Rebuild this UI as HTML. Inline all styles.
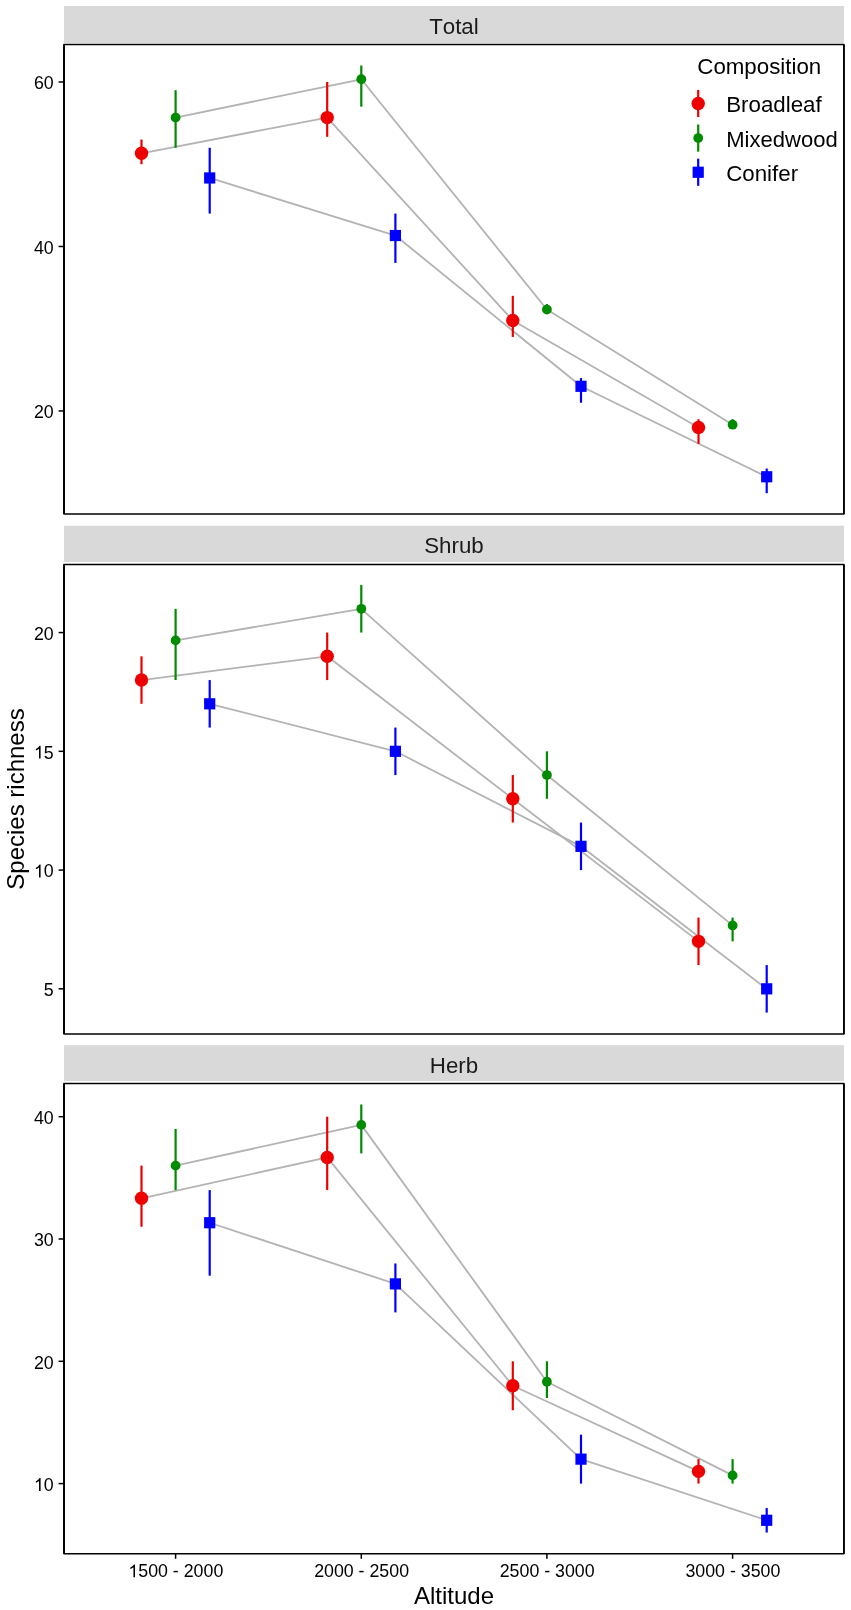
<!DOCTYPE html>
<html><head><meta charset="utf-8"><title>Species richness by altitude</title>
<style>
html,body{margin:0;padding:0;background:#fff;}
body{width:851px;height:1610px;overflow:hidden;}
svg{display:block;will-change:transform;font-family:"Liberation Sans", sans-serif;font-kerning:none;font-feature-settings:"kern" 0;}
</style></head><body>
<svg width="851" height="1610" viewBox="0 0 851 1610">
<rect x="0" y="0" width="851" height="1610" fill="#FFFFFF"/>
<rect x="64" y="6" width="779.9" height="37" fill="#D9D9D9"/>
<text x="453.95" y="33.6" font-size="22.3" text-anchor="middle" fill="#1A1A1A">Total</text>
<polyline points="141.5,153.28 327.2,117.58 512.8,320.5 698.5,427.42" fill="none" stroke="#B3B3B3" stroke-width="1.8" stroke-linejoin="round" stroke-linecap="butt"/>
<polyline points="175.6,117.58 361.3,79.26 546.9,309.56 732.6,424.71" fill="none" stroke="#B3B3B3" stroke-width="1.8" stroke-linejoin="round" stroke-linecap="butt"/>
<polyline points="209.7,177.96 395.4,235.53 581,386.29 766.7,476.77" fill="none" stroke="#B3B3B3" stroke-width="1.8" stroke-linejoin="round" stroke-linecap="butt"/>
<line x1="141.5" y1="139.54" x2="141.5" y2="164.22" stroke="#EE0000" stroke-width="2.2"/>
<line x1="175.6" y1="90.19" x2="175.6" y2="147.77" stroke="#008B00" stroke-width="2.2"/>
<line x1="209.7" y1="147.77" x2="209.7" y2="213.57" stroke="#0000FF" stroke-width="2.2"/>
<line x1="327.2" y1="81.97" x2="327.2" y2="136.83" stroke="#EE0000" stroke-width="2.2"/>
<line x1="361.3" y1="65.52" x2="361.3" y2="106.64" stroke="#008B00" stroke-width="2.2"/>
<line x1="395.4" y1="213.57" x2="395.4" y2="262.92" stroke="#0000FF" stroke-width="2.2"/>
<line x1="512.8" y1="295.82" x2="512.8" y2="336.94" stroke="#EE0000" stroke-width="2.2"/>
<line x1="546.9" y1="304.04" x2="546.9" y2="312.27" stroke="#008B00" stroke-width="2.2"/>
<line x1="581" y1="378.07" x2="581" y2="402.75" stroke="#0000FF" stroke-width="2.2"/>
<line x1="698.5" y1="419.19" x2="698.5" y2="443.87" stroke="#EE0000" stroke-width="2.2"/>
<line x1="732.6" y1="419.19" x2="732.6" y2="427.42" stroke="#008B00" stroke-width="2.2"/>
<line x1="766.7" y1="468.54" x2="766.7" y2="493.22" stroke="#0000FF" stroke-width="2.2"/>
<circle cx="141.5" cy="153.28" r="6.7" fill="#EE0000"/>
<circle cx="175.6" cy="117.58" r="4.9" fill="#008B00"/>
<rect x="204.1" y="172.36" width="11.2" height="11.2" fill="#0000FF"/>
<circle cx="327.2" cy="117.58" r="6.7" fill="#EE0000"/>
<circle cx="361.3" cy="79.26" r="4.9" fill="#008B00"/>
<rect x="389.8" y="229.93" width="11.2" height="11.2" fill="#0000FF"/>
<circle cx="512.8" cy="320.5" r="6.7" fill="#EE0000"/>
<circle cx="546.9" cy="309.56" r="4.9" fill="#008B00"/>
<rect x="575.4" y="380.69" width="11.2" height="11.2" fill="#0000FF"/>
<circle cx="698.5" cy="427.42" r="6.7" fill="#EE0000"/>
<circle cx="732.6" cy="424.71" r="4.9" fill="#008B00"/>
<rect x="761.1" y="471.17" width="11.2" height="11.2" fill="#0000FF"/>
<rect x="64" y="44.5" width="779.9" height="469.5" fill="none" stroke="#000" stroke-width="1.5" stroke-linejoin="round"/>
<line x1="64" y1="44.5" x2="64" y2="514" stroke="#000" stroke-width="1.9"/>
<line x1="843.9" y1="44.5" x2="843.9" y2="514" stroke="#000" stroke-width="1.7"/>
<line x1="58.6" y1="410.97" x2="64" y2="410.97" stroke="#000000" stroke-width="1.5"/>
<text x="53.75" y="418.27" font-size="17.8" text-anchor="end" fill="#000000">20</text>
<line x1="58.6" y1="246.47" x2="64" y2="246.47" stroke="#000000" stroke-width="1.5"/>
<text x="53.75" y="253.77" font-size="17.8" text-anchor="end" fill="#000000">40</text>
<line x1="58.6" y1="81.97" x2="64" y2="81.97" stroke="#000000" stroke-width="1.5"/>
<text x="53.75" y="89.27" font-size="17.8" text-anchor="end" fill="#000000">60</text>
<rect x="64" y="525.7" width="779.9" height="36.3" fill="#D9D9D9"/>
<text x="453.95" y="553.3" font-size="22.3" text-anchor="middle" fill="#1A1A1A">Shrub</text>
<polyline points="141.5,680.06 327.2,656.31 512.8,798.82 698.5,941.34" fill="none" stroke="#B3B3B3" stroke-width="1.8" stroke-linejoin="round" stroke-linecap="butt"/>
<polyline points="175.6,640.4 361.3,608.81 546.9,775.07 732.6,925.42" fill="none" stroke="#B3B3B3" stroke-width="1.8" stroke-linejoin="round" stroke-linecap="butt"/>
<polyline points="209.7,703.82 395.4,751.32 581,846.33 766.7,988.84" fill="none" stroke="#B3B3B3" stroke-width="1.8" stroke-linejoin="round" stroke-linecap="butt"/>
<line x1="141.5" y1="656.31" x2="141.5" y2="703.82" stroke="#EE0000" stroke-width="2.2"/>
<line x1="175.6" y1="608.81" x2="175.6" y2="680.06" stroke="#008B00" stroke-width="2.2"/>
<line x1="209.7" y1="680.06" x2="209.7" y2="727.57" stroke="#0000FF" stroke-width="2.2"/>
<line x1="327.2" y1="632.56" x2="327.2" y2="680.06" stroke="#EE0000" stroke-width="2.2"/>
<line x1="361.3" y1="585.06" x2="361.3" y2="632.56" stroke="#008B00" stroke-width="2.2"/>
<line x1="395.4" y1="727.57" x2="395.4" y2="775.07" stroke="#0000FF" stroke-width="2.2"/>
<line x1="512.8" y1="775.07" x2="512.8" y2="822.58" stroke="#EE0000" stroke-width="2.2"/>
<line x1="546.9" y1="751.32" x2="546.9" y2="798.82" stroke="#008B00" stroke-width="2.2"/>
<line x1="581" y1="822.58" x2="581" y2="870.08" stroke="#0000FF" stroke-width="2.2"/>
<line x1="698.5" y1="917.58" x2="698.5" y2="965.09" stroke="#EE0000" stroke-width="2.2"/>
<line x1="732.6" y1="917.58" x2="732.6" y2="941.34" stroke="#008B00" stroke-width="2.2"/>
<line x1="766.7" y1="965.09" x2="766.7" y2="1012.59" stroke="#0000FF" stroke-width="2.2"/>
<circle cx="141.5" cy="680.06" r="6.7" fill="#EE0000"/>
<circle cx="175.6" cy="640.4" r="4.9" fill="#008B00"/>
<rect x="204.1" y="698.22" width="11.2" height="11.2" fill="#0000FF"/>
<circle cx="327.2" cy="656.31" r="6.7" fill="#EE0000"/>
<circle cx="361.3" cy="608.81" r="4.9" fill="#008B00"/>
<rect x="389.8" y="745.72" width="11.2" height="11.2" fill="#0000FF"/>
<circle cx="512.8" cy="798.82" r="6.7" fill="#EE0000"/>
<circle cx="546.9" cy="775.07" r="4.9" fill="#008B00"/>
<rect x="575.4" y="840.73" width="11.2" height="11.2" fill="#0000FF"/>
<circle cx="698.5" cy="941.34" r="6.7" fill="#EE0000"/>
<circle cx="732.6" cy="925.42" r="4.9" fill="#008B00"/>
<rect x="761.1" y="983.24" width="11.2" height="11.2" fill="#0000FF"/>
<rect x="64" y="564.4" width="779.9" height="469.6" fill="none" stroke="#000" stroke-width="1.5" stroke-linejoin="round"/>
<line x1="64" y1="564.4" x2="64" y2="1034" stroke="#000" stroke-width="1.9"/>
<line x1="843.9" y1="564.4" x2="843.9" y2="1034" stroke="#000" stroke-width="1.7"/>
<line x1="58.6" y1="988.84" x2="64" y2="988.84" stroke="#000000" stroke-width="1.5"/>
<text x="53.75" y="996.14" font-size="17.8" text-anchor="end" fill="#000000">5</text>
<line x1="58.6" y1="870.08" x2="64" y2="870.08" stroke="#000000" stroke-width="1.5"/>
<text x="33.95" y="877.38" font-size="17.8" fill="#000000"> 0</text><path transform="translate(33.95,877.38) scale(0.008691,-0.008691)" d="M763 0L583 0L583 1147Q518 1085 412 1023Q307 961 223 930L223 1104Q374 1175 487 1276Q600 1377 647 1472L763 1472Z" fill="#000000"/>
<line x1="58.6" y1="751.32" x2="64" y2="751.32" stroke="#000000" stroke-width="1.5"/>
<text x="33.95" y="758.62" font-size="17.8" fill="#000000"> 5</text><path transform="translate(33.95,758.62) scale(0.008691,-0.008691)" d="M763 0L583 0L583 1147Q518 1085 412 1023Q307 961 223 930L223 1104Q374 1175 487 1276Q600 1377 647 1472L763 1472Z" fill="#000000"/>
<line x1="58.6" y1="632.56" x2="64" y2="632.56" stroke="#000000" stroke-width="1.5"/>
<text x="53.75" y="639.86" font-size="17.8" text-anchor="end" fill="#000000">20</text>
<rect x="64" y="1045.2" width="779.9" height="35.8" fill="#D9D9D9"/>
<text x="453.95" y="1073" font-size="22.3" text-anchor="middle" fill="#1A1A1A">Herb</text>
<polyline points="141.5,1198.27 327.2,1157.43 512.8,1385.76 698.5,1471.37" fill="none" stroke="#B3B3B3" stroke-width="1.8" stroke-linejoin="round" stroke-linecap="butt"/>
<polyline points="175.6,1165.62 361.3,1124.89 546.9,1381.72 732.6,1475.41" fill="none" stroke="#B3B3B3" stroke-width="1.8" stroke-linejoin="round" stroke-linecap="butt"/>
<polyline points="209.7,1222.73 395.4,1283.88 581,1459.14 766.7,1520.29" fill="none" stroke="#B3B3B3" stroke-width="1.8" stroke-linejoin="round" stroke-linecap="butt"/>
<line x1="141.5" y1="1165.62" x2="141.5" y2="1226.77" stroke="#EE0000" stroke-width="2.2"/>
<line x1="175.6" y1="1128.93" x2="175.6" y2="1190.08" stroke="#008B00" stroke-width="2.2"/>
<line x1="209.7" y1="1190.08" x2="209.7" y2="1275.69" stroke="#0000FF" stroke-width="2.2"/>
<line x1="327.2" y1="1116.7" x2="327.2" y2="1190.08" stroke="#EE0000" stroke-width="2.2"/>
<line x1="361.3" y1="1104.47" x2="361.3" y2="1153.39" stroke="#008B00" stroke-width="2.2"/>
<line x1="395.4" y1="1263.46" x2="395.4" y2="1312.38" stroke="#0000FF" stroke-width="2.2"/>
<line x1="512.8" y1="1361.3" x2="512.8" y2="1410.22" stroke="#EE0000" stroke-width="2.2"/>
<line x1="546.9" y1="1361.3" x2="546.9" y2="1397.99" stroke="#008B00" stroke-width="2.2"/>
<line x1="581" y1="1434.68" x2="581" y2="1483.6" stroke="#0000FF" stroke-width="2.2"/>
<line x1="698.5" y1="1459.14" x2="698.5" y2="1483.6" stroke="#EE0000" stroke-width="2.2"/>
<line x1="732.6" y1="1459.14" x2="732.6" y2="1483.6" stroke="#008B00" stroke-width="2.2"/>
<line x1="766.7" y1="1508.06" x2="766.7" y2="1532.52" stroke="#0000FF" stroke-width="2.2"/>
<circle cx="141.5" cy="1198.27" r="6.7" fill="#EE0000"/>
<circle cx="175.6" cy="1165.62" r="4.9" fill="#008B00"/>
<rect x="204.1" y="1217.13" width="11.2" height="11.2" fill="#0000FF"/>
<circle cx="327.2" cy="1157.43" r="6.7" fill="#EE0000"/>
<circle cx="361.3" cy="1124.89" r="4.9" fill="#008B00"/>
<rect x="389.8" y="1278.28" width="11.2" height="11.2" fill="#0000FF"/>
<circle cx="512.8" cy="1385.76" r="6.7" fill="#EE0000"/>
<circle cx="546.9" cy="1381.72" r="4.9" fill="#008B00"/>
<rect x="575.4" y="1453.54" width="11.2" height="11.2" fill="#0000FF"/>
<circle cx="698.5" cy="1471.37" r="6.7" fill="#EE0000"/>
<circle cx="732.6" cy="1475.41" r="4.9" fill="#008B00"/>
<rect x="761.1" y="1514.69" width="11.2" height="11.2" fill="#0000FF"/>
<rect x="64" y="1083.5" width="779.9" height="470.3" fill="none" stroke="#000" stroke-width="1.5" stroke-linejoin="round"/>
<line x1="64" y1="1083.5" x2="64" y2="1553.8" stroke="#000" stroke-width="1.9"/>
<line x1="843.9" y1="1083.5" x2="843.9" y2="1553.8" stroke="#000" stroke-width="1.7"/>
<line x1="58.6" y1="1483.6" x2="64" y2="1483.6" stroke="#000000" stroke-width="1.5"/>
<text x="33.95" y="1490.9" font-size="17.8" fill="#000000"> 0</text><path transform="translate(33.95,1490.9) scale(0.008691,-0.008691)" d="M763 0L583 0L583 1147Q518 1085 412 1023Q307 961 223 930L223 1104Q374 1175 487 1276Q600 1377 647 1472L763 1472Z" fill="#000000"/>
<line x1="58.6" y1="1361.3" x2="64" y2="1361.3" stroke="#000000" stroke-width="1.5"/>
<text x="53.75" y="1368.6" font-size="17.8" text-anchor="end" fill="#000000">20</text>
<line x1="58.6" y1="1239" x2="64" y2="1239" stroke="#000000" stroke-width="1.5"/>
<text x="53.75" y="1246.3" font-size="17.8" text-anchor="end" fill="#000000">30</text>
<line x1="58.6" y1="1116.7" x2="64" y2="1116.7" stroke="#000000" stroke-width="1.5"/>
<text x="53.75" y="1124" font-size="17.8" text-anchor="end" fill="#000000">40</text>
<line x1="175.6" y1="1553.8" x2="175.6" y2="1558.8" stroke="#000000" stroke-width="1.5"/>
<text x="128.39" y="1577.2" font-size="17.8" fill="#000000"> 500 - 2000</text><path transform="translate(128.39,1577.2) scale(0.008691,-0.008691)" d="M763 0L583 0L583 1147Q518 1085 412 1023Q307 961 223 930L223 1104Q374 1175 487 1276Q600 1377 647 1472L763 1472Z" fill="#000000"/>
<line x1="361.3" y1="1553.8" x2="361.3" y2="1558.8" stroke="#000000" stroke-width="1.5"/>
<text x="361.6" y="1577.2" font-size="17.8" text-anchor="middle" fill="#000000">2000 - 2500</text>
<line x1="546.9" y1="1553.8" x2="546.9" y2="1558.8" stroke="#000000" stroke-width="1.5"/>
<text x="547.2" y="1577.2" font-size="17.8" text-anchor="middle" fill="#000000">2500 - 3000</text>
<line x1="732.6" y1="1553.8" x2="732.6" y2="1558.8" stroke="#000000" stroke-width="1.5"/>
<text x="732.9" y="1577.2" font-size="17.8" text-anchor="middle" fill="#000000">3000 - 3500</text>
<text x="454.0" y="1603.7" font-size="24" text-anchor="middle" fill="#000000">Altitude</text>
<text transform="translate(24.2,799.0) rotate(-90)" x="0" y="0" font-size="24" text-anchor="middle" fill="#000000">Species richness</text>
<text x="697.3" y="74.2" font-size="22.3" fill="#000000">Composition</text>
<line x1="698.2" y1="89.9" x2="698.2" y2="117.1" stroke="#EE0000" stroke-width="2.2"/>
<circle cx="698.2" cy="103.5" r="6.7" fill="#EE0000"/>
<text x="726.2" y="112.1" font-size="22.3" fill="#000000">Broadleaf</text>
<line x1="698.2" y1="124.45" x2="698.2" y2="151.65" stroke="#008B00" stroke-width="2.2"/>
<circle cx="698.2" cy="138.05" r="4.9" fill="#008B00"/>
<text x="726.2" y="146.65" font-size="22.3" fill="#000000" textLength="111.5" lengthAdjust="spacingAndGlyphs">Mixedwood</text>
<line x1="698.2" y1="158.65" x2="698.2" y2="185.85" stroke="#0000FF" stroke-width="2.2"/>
<rect x="692.6" y="166.65" width="11.2" height="11.2" fill="#0000FF"/>
<text x="726.2" y="180.85" font-size="22.3" fill="#000000">Conifer</text>
</svg>
</body></html>
